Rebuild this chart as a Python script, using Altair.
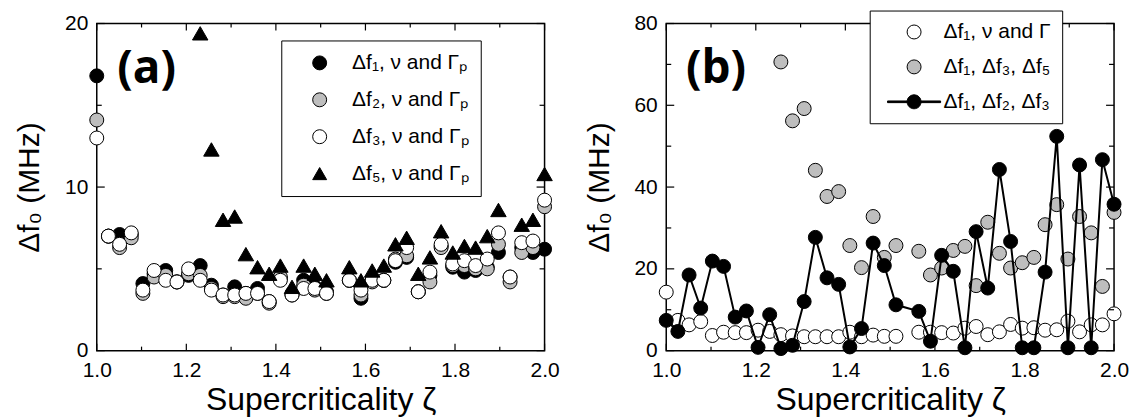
import altair as alt
import pandas as pd

# ---------------- data ----------------
X = [1.000, 1.026, 1.051, 1.077, 1.103, 1.128, 1.154, 1.179, 1.205, 1.231,
     1.256, 1.282, 1.308, 1.333, 1.359, 1.385, 1.410, 1.436, 1.462, 1.487,
     1.513, 1.564, 1.590, 1.615, 1.641, 1.667, 1.692, 1.718, 1.744, 1.769,
     1.795, 1.821, 1.846, 1.872, 1.897, 1.923, 1.949, 1.974, 2.000]

# panel (a)
A_F1 = [16.8, 7.0, 7.1, 7.1, 4.1, 4.7, 4.9, 4.2, 4.6, 5.2,
        4.0, 3.4, 3.9, 3.5, 3.8, 3.0, 4.4, 3.5, 4.3, 3.9,
        3.6, 4.3, 3.2, 4.3, 4.3, 5.4, 5.7, 3.6, 4.6, 6.4,
        5.1, 4.8, 4.9, 5.1, 6.0, 4.5, 6.3, 6.0, 6.2]
A_F2 = [14.1, 7.0, 6.3, 6.9, 3.5, 4.5, 4.6, 4.2, 4.7, 4.6,
        3.8, 3.3, 3.3, 3.2, 3.5, 2.9, 4.5, 3.4, 4.0, 3.7,
        3.5, 4.3, 3.4, 4.2, 4.3, 5.6, 5.8, 3.6, 4.2, 6.3,
        5.2, 5.2, 5.0, 5.0, 6.5, 4.2, 6.0, 6.3, 8.8]
A_F3 = [13.0, 7.0, 6.5, 7.2, 3.7, 4.9, 4.3, 4.2, 5.0, 4.3,
        3.7, 3.4, 3.4, 3.5, 3.5, 3.0, 4.3, 3.4, 3.8, 3.8,
        3.5, 4.3, 3.7, 4.3, 4.3, 5.5, 6.3, 3.6, 4.8, 6.5,
        5.3, 5.5, 5.2, 5.6, 7.2, 4.5, 6.6, 6.7, 9.2]
A_F5 = [None, None, None, None, None, None, None, None, None, 19.4,
        12.3, 8.0, 8.2, 5.9, 5.1, 4.7, 5.2, 3.9, 5.2, 4.7,
        4.3, 5.1, 4.3, 4.9, 5.2, 6.5, 6.9, 4.7, 5.7, 7.3,
        6.0, 6.4, 6.3, 7.0, 8.6, None, 7.7, 8.0, 10.8]

# panel (b)
B_W = [14.3, 7.4, 6.3, 7.1, 3.7, 4.5, 4.4, 4.4, 5.0, 4.7,
       3.9, 3.6, 3.4, 3.4, 3.4, 3.4, 4.5, 3.4, 3.8, 3.5,
       3.5, 4.5, 4.5, 4.4, 4.3, 5.5, 5.9, 3.9, 4.6, 6.4,
       5.5, 5.6, 5.0, 5.1, 7.2, 4.6, 6.3, 6.3, 9.0]
B_G = [None, None, None, None, None, None, None, None, None, None,
       70.6, 56.2, 59.2, 44.1, 37.7, 38.9, 25.7, 20.3, 32.8, 22.8,
       25.7, 24.3, 18.5, 20.2, 24.5, 25.5, 15.9, 31.4, 23.8, 20.2,
       21.5, 22.8, 30.8, 35.7, 22.4, 32.8, 28.8, 15.7, 33.8]
B_K = [7.4, 4.7, 18.5, 10.4, 21.9, 20.6, 8.2, 9.7, 0.8, 8.8,
       0.5, 1.3, 12.0, 27.7, 17.8, 16.2, 0.9, 5.4, 26.3, 20.8,
       11.2, 9.6, 2.3, 23.3, 19.4, 0.7, 29.1, 15.3, 44.3, 26.7,
       0.7, 0.7, 19.2, 52.4, 0.7, 45.4, 0.7, 46.7, 35.8]

XT_MAJOR = [1.0, 1.2, 1.4, 1.6, 1.8, 2.0]
XT_MINOR = [1.1, 1.3, 1.5, 1.7, 1.9]
YA_MAJOR = [0, 10, 20]
YA_MINOR = [5, 15]
YB_MAJOR = [0, 20, 40, 60, 80]
YB_MINOR = [10, 30, 50, 70]

A_LABELS = ["Δf₁, ν and Γₚ", "Δf₂, ν and Γₚ", "Δf₃, ν and Γₚ", "Δf₅, ν and Γₚ"]
B_LABELS = ["Δf₁, ν and Γ", "Δf₁, Δf₃, Δf₅", "Δf₁, Δf₂, Δf₃"]

# ---------------- style ----------------
W, H = 449, 328
FONT = "Liberation Sans"
GRAY = "#bebebe"
CSIZE = 196
TSIZE = 240
LINE_SYMBOL = ("M-1,0 A1,1 0 1,1 1,0 A1,1 0 1,1 -1,0 Z "
               "M-3.8,-0.12 L-1,-0.12 L-1,0.12 L-3.8,0.12 Z "
               "M1,-0.12 L3.8,-0.12 L3.8,0.12 L1,0.12 Z")

xscale = alt.Scale(domain=[1.0, 2.0], nice=False, zero=False)


def xaxis():
    return alt.Axis(values=XT_MAJOR, format=".1f", title="Supercriticality ζ",
                    ticks=False, domain=False, grid=False, labelFont=FONT,
                    labelFontSize=21, labelPadding=9, labelColor="black",
                    labelFlush=False, titleFont=FONT, titleFontSize=32,
                    titleFontWeight="normal", titleColor="black", titlePadding=4)


def yaxis(vals):
    return alt.Axis(values=vals, format="d", title="Δf₀ (MHz)",
                    ticks=False, domain=False, grid=False, labelFont=FONT,
                    labelFontSize=21, labelPadding=9, labelColor="black",
                    labelFlush=False, titleFont=FONT, titleFontSize=30,
                    titleFontWeight="normal", titleColor="black", titlePadding=20)


def xenc():
    return alt.X("x:Q", scale=xscale, axis=xaxis())


def yenc(ydom, ymaj):
    return alt.Y("y:Q", scale=alt.Scale(domain=ydom, nice=False), axis=yaxis(ymaj))


def points(xs, ys, fill, shape, size, ydom, ymaj):
    df = pd.DataFrame({"x": xs, "y": ys}).dropna()
    return alt.Chart(df).mark_point(
        filled=True, fill=fill, stroke="black", strokeWidth=1, shape=shape,
        size=size, opacity=1, fillOpacity=1, strokeOpacity=1
    ).encode(x=xenc(), y=yenc(ydom, ymaj))


def line(xs, ys, ydom, ymaj):
    df = pd.DataFrame({"x": xs, "y": ys}).dropna()
    return alt.Chart(df).mark_line(color="black", strokeWidth=2).encode(
        x=xenc(), y=yenc(ydom, ymaj))


def legend_layer(labels, fills, shapes, ydom, ymaj, lx, ly, pad, rowpad, symoff, laboff):
    df = pd.DataFrame({"series": labels, "x": [1.5] * len(labels), "y": [0] * len(labels)})
    leg = alt.Legend(title=None, orient="none", legendX=lx, legendY=ly,
                     direction="vertical", labelFont=FONT, labelFontSize=21,
                     labelColor="black", labelLimit=0, symbolSize=CSIZE,
                     symbolStrokeWidth=1, symbolOpacity=1,
                     strokeColor="black", fillColor="white",
                     padding=pad, rowPadding=rowpad, symbolOffset=symoff,
                     labelOffset=laboff, cornerRadius=0)
    return alt.Chart(df).transform_filter("false").mark_point(
        filled=True, opacity=1, size=CSIZE, strokeWidth=1
    ).encode(
        x=xenc(), y=yenc(ydom, ymaj),
        fill=alt.Fill("series:N", scale=alt.Scale(domain=labels, range=fills), legend=leg),
        shape=alt.Shape("series:N", scale=alt.Scale(domain=labels, range=shapes), legend=leg),
        stroke=alt.Stroke("series:N", scale=alt.Scale(domain=labels, range=["black"] * len(labels)), legend=leg),
    )


def tick_layers(ydom, ymaj, ymin):
    out = []
    for vals, ln in ((XT_MAJOR, 7), (XT_MINOR, 4)):
        df = pd.DataFrame({"x": vals})
        out.append(alt.Chart(df).mark_rule(color="black", strokeWidth=1.2).encode(
            x=xenc(), y=alt.value(H), y2=alt.value(H - ln)))
        out.append(alt.Chart(df).mark_rule(color="black", strokeWidth=1.2).encode(
            x=xenc(), y=alt.value(0), y2=alt.value(ln)))
    for vals, ln in ((ymaj, 8), (ymin, 5)):
        df = pd.DataFrame({"y": vals})
        out.append(alt.Chart(df).mark_rule(color="black", strokeWidth=1.2).encode(
            y=yenc(ydom, ymaj), x=alt.value(0), x2=alt.value(ln)))
        out.append(alt.Chart(df).mark_rule(color="black", strokeWidth=1.2).encode(
            y=yenc(ydom, ymaj), x=alt.value(W), x2=alt.value(W - ln)))
    return out


def panel_label(txt):
    return alt.Chart(pd.DataFrame({"t": [txt]})).mark_text(
        font="Open Sans", fontWeight="bold", fontSize=46, align="center",
        baseline="middle", color="black"
    ).encode(x=alt.value(50), y=alt.value(46), text="t:N")


# ---------------- panel (a) ----------------
YA = [0, 20]
panel_a = alt.layer(
    points(X, A_F1, "black", "circle", CSIZE, YA, YA_MAJOR),
    points(X, A_F2, GRAY, "circle", CSIZE, YA, YA_MAJOR),
    points(X, A_F3, "white", "circle", CSIZE, YA, YA_MAJOR),
    points(X, A_F5, "black", "triangle-up", TSIZE, YA, YA_MAJOR),
    legend_layer(A_LABELS, ["black", GRAY, "white", "black"],
                 ["circle", "circle", "circle", "triangle-up"], YA, YA_MAJOR,
                 185, 17, 12, 15, 16, 22),
    *tick_layers(YA, YA_MAJOR, YA_MINOR),
    panel_label("(a)"),
).properties(width=W, height=H)

# ---------------- panel (b) ----------------
YB = [0, 80]
panel_b = alt.layer(
    points(X, B_W, "white", "circle", CSIZE, YB, YB_MAJOR),
    points(X, B_G, GRAY, "circle", CSIZE, YB, YB_MAJOR),
    line(X, B_K, YB, YB_MAJOR),
    points(X, B_K, "black", "circle", CSIZE, YB, YB_MAJOR),
    legend_layer(B_LABELS, ["white", GRAY, "black"],
                 ["circle", "circle", LINE_SYMBOL], YB, YB_MAJOR,
                 204, -13, 11, 13, 23, 19),
    *tick_layers(YB, YB_MAJOR, YB_MINOR),
    panel_label("(b)"),
).properties(width=W, height=H)

chart = alt.hconcat(panel_a, panel_b, spacing=22).resolve_scale(
    fill="independent", shape="independent", stroke="independent", y="independent"
).resolve_legend(fill="independent", shape="independent", stroke="independent").properties(
    padding={"left": 5, "top": 0, "right": 0, "bottom": 0},
    background="white",
).configure_view(stroke="black", strokeWidth=1.5)

chart.save("out.html", embed_options={"renderer": "svg", "actions": False})
